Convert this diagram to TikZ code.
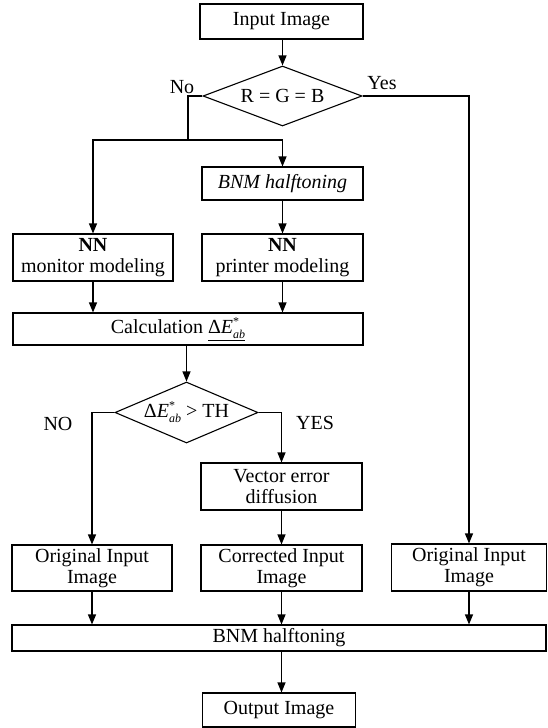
\documentclass[tikz,border=0pt]{standalone}
\usepackage{fontspec}
\setmainfont{Liberation Serif}
\usetikzlibrary{arrows.meta,shapes.geometric}
\newcommand{\dEab}{Δ\textit{E}\rlap{\raisebox{0.85ex}{\fontsize{12}{12}\selectfont *}}\raisebox{-0.55ex}{\fontsize{12}{12}\selectfont\textit{ab}}}
\tikzset{
  box/.style={draw, line width=1.1pt, inner sep=0pt, align=center, font=\fontsize{20}{21}\selectfont},
  dec/.style={draw, line width=1.1pt, shape=diamond, inner sep=0pt, font=\fontsize{20}{21}\selectfont},
  lbl/.style={inner sep=0pt, font=\fontsize{20}{21}\selectfont},
  link/.style={line width=1.1pt},
  arr/.style={line width=1.1pt, -{Triangle[length=10pt,width=8pt]}}
}
\begin{document}
\begin{tikzpicture}[x=1pt,y=-1pt]
\useasboundingbox (0,0) rectangle (547,728);
\node[box, minimum width=163pt, minimum height=35pt] (in) at (281.5,21.5) {Input Image};
\node[dec, minimum width=159pt, minimum height=60pt, aspect=2.65] (d1) at (282.5,96) {R = G = B};
\node[box, minimum width=161pt, minimum height=33pt] (bnm1) at (282.5,183.5) {\textit{BNM halftoning}};
\node[box, minimum width=160pt, minimum height=47pt] (nnm) at (93,257.5) {\textbf{NN}\\monitor modeling};
\node[box, minimum width=161pt, minimum height=47pt] (nnp) at (282.5,257.5) {\textbf{NN}\\printer modeling};
\node[box, minimum width=350pt, minimum height=32pt] (calc) at (188,329) {Calculation \underline{\dEab}\hspace*{20pt}};
\node[dec, minimum width=143pt, minimum height=61pt, aspect=2.34] (d2) at (186.5,412.5) {\dEab\ {\textgreater} TH};
\node[box, minimum width=161pt, minimum height=47pt] (ved) at (281.5,486.5) {Vector error\\diffusion};
\node[box, minimum width=160pt, minimum height=46pt] (oi1) at (92,568) {Original Input\\Image};
\node[box, minimum width=161pt, minimum height=46pt] (ci) at (281.5,568) {Corrected Input\\Image};
\node[box, minimum width=155pt, minimum height=47pt] (oi2) at (469,567.5) {Original Input\\Image};
\node[box, minimum width=534pt, minimum height=26pt] (bnm2) at (279,638) {BNM halftoning};
\node[box, minimum width=153pt, minimum height=34pt] (out) at (279,710) {Output Image};
\node[lbl] (lno) at (182,87) {No};
\node[lbl] (lyes) at (382,83) {Yes};
\node[lbl] (lNO) at (58,424) {NO};
\node[lbl] (lYES) at (315,423) {YES};
\coordinate (j1) at (188,140);
\draw[arr] (in.south -| d1.north) -- (d1.north);
\draw[link] (d1.west) -| (j1);
\draw[arr] (j1) -| (nnm.north);
\draw[arr] (j1) -| (bnm1.north);
\draw[arr] (bnm1.south) -- (nnp.north);
\draw[arr] (nnm.south) -- (nnm.south |- calc.north);
\draw[arr] (nnp.south) -- (nnp.south |- calc.north);
\draw[arr] (d2.north |- calc.south) -- (d2.north);
\draw[arr] (d2.west) -| (oi1.north);
\draw[arr] (d2.east) -| (ved.north);
\draw[arr] (ved.south) -- (ci.north);
\draw[arr] (d1.east) -| (oi2.north);
\draw[arr] (oi1.south) -- (oi1.south |- bnm2.north);
\draw[arr] (ci.south) -- (ci.south |- bnm2.north);
\draw[arr] (oi2.south) -- (oi2.south |- bnm2.north);
\draw[arr] (bnm2.south -| ci.south) -- (out.north -| ci.south);
\end{tikzpicture}
\end{document}
